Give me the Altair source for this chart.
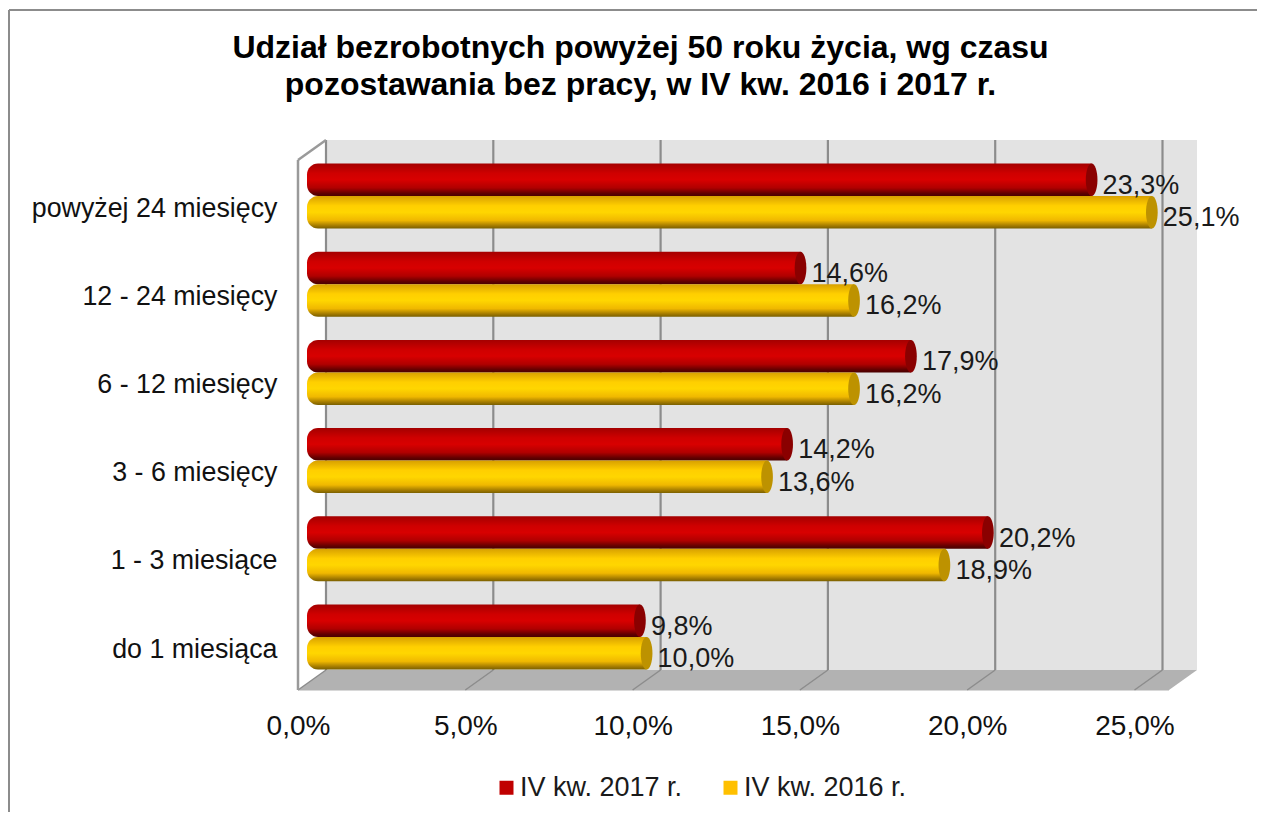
import altair as alt
import pandas as pd

categories = ["powyżej 24 miesięcy", "12 - 24 miesięcy", "6 - 12 miesięcy",
              "3 - 6 miesięcy", "1 - 3 miesiące", "do 1 miesiąca"]
values_2017 = [23.3, 14.6, 17.9, 14.2, 20.2, 9.8]
values_2016 = [25.1, 16.2, 16.2, 13.6, 18.9, 10.0]
series_names = ["IV kw. 2017 r.", "IV kw. 2016 r."]
grid_values = [0, 5, 10, 15, 20, 25]

FONT = "Liberation Sans"
PX_X = 33.46          # pixels per percent
PX_Y = 88.2           # pixels per category row
W, H = 899, 550
DX = 28 / PX_X        # 3D depth in x units
DY = 20 / PX_Y        # 3D depth in y units
X_MAX = W / PX_X
Y_MAX = H / PX_Y
FLOOR_BACK = 530 / PX_Y
FLOOR_FRONT = 550 / PX_Y
BAND0 = 56 / PX_Y     # centre of first pair of bars
HALF = 32.5 / PX_Y
BAR_L = 9 / PX_X
BAR_R = 14 / PX_X

x_scale = alt.Scale(domain=[0, X_MAX], nice=False, zero=False)
y_scale = alt.Scale(domain=[0, Y_MAX], reverse=True, nice=False, zero=False)

label_js = "{" + ",".join(f"'{i}':'{c}'" for i, c in enumerate(categories)) + "}"
OFFSET = BAND0 + 12 / PX_Y
x_axis = alt.Axis(
    values=grid_values, domain=False, ticks=False, grid=False, labelPadding=22, title=None,
    labelFont=FONT, labelFontSize=28, labelColor="#111111", labelFlush=False, labelBound=False,
    labelOverlap=False, labelExpr="replace(format(datum.value,'.1f'),'.',',')+'%'")
y_axis = alt.Axis(
    values=[OFFSET + i for i in range(6)], domain=False, ticks=False, grid=False, title=None,
    labelPadding=21, labelFont=FONT, labelFontSize=26.8, labelColor="#111111", labelLimit=400,
    labelOverlap=False, labelExpr=f"{label_js}[round(datum.value-{OFFSET})]")

rows = []
for i, c in enumerate(categories):
    for s, v in zip(series_names, (values_2017[i], values_2016[i])):
        top = BAND0 + i - (HALF if s == series_names[0] else 0)
        rows.append(dict(category=c, series=s, value=v, x0=BAR_L, x1=v + BAR_R,
                         y0=top, y1=top + HALF, ym=top + HALF / 2,
                         label=f"{v:.1f}%".replace(".", ",")))
df = pd.DataFrame(rows)
red = df[df.series == series_names[0]]
yel = df[df.series == series_names[1]]

X = alt.X("x:Q", scale=x_scale, axis=x_axis)
Y = alt.Y("y:Q", scale=y_scale, axis=y_axis)

wall = alt.Chart(pd.DataFrame([dict(x=DX, x2=X_MAX, y=0, y2=FLOOR_BACK)])).mark_rect(color="#e3e3e3").encode(
    x=X, x2="x2:Q", y=Y, y2="y2:Q")

floor_pts = pd.DataFrame([
    dict(x=0, y=FLOOR_FRONT, y2=FLOOR_FRONT),
    dict(x=DX, y=FLOOR_BACK, y2=FLOOR_FRONT),
    dict(x=X_MAX - DX, y=FLOOR_BACK, y2=FLOOR_FRONT),
    dict(x=X_MAX, y=FLOOR_BACK, y2=FLOOR_BACK),
])
floor = alt.Chart(floor_pts).mark_area(color="#b2b2b2", interpolate="linear").encode(
    x=X, y=Y, y2="y2:Q")

grid_df = pd.DataFrame([dict(x=g + DX, x2=g + DX, y=0, y2=FLOOR_BACK) for g in grid_values])
grid_back = alt.Chart(grid_df).mark_rule(color="#8c8c8c", strokeWidth=2.2).encode(
    x=X, x2="x2:Q", y=Y, y2="y2:Q")
slant_df = pd.DataFrame([dict(x=g, x2=g + DX, y=FLOOR_FRONT, y2=FLOOR_BACK) for g in grid_values])
grid_slant = alt.Chart(slant_df).mark_rule(color="#8c8c8c", strokeWidth=1.5).encode(
    x=X, x2="x2:Q", y=Y, y2="y2:Q")

side_df = pd.DataFrame([
    dict(x=0, x2=0, y=DY, y2=FLOOR_FRONT),
    dict(x=0, x2=DX, y=DY, y2=0),
])
side = alt.Chart(side_df).mark_rule(color="#9a9a9a", strokeWidth=2.5).encode(
    x=X, x2="x2:Q", y=Y, y2="y2:Q")
front = alt.Chart(pd.DataFrame([dict(x=0, x2=X_MAX - DX, y=FLOOR_FRONT, y2=FLOOR_FRONT)])).mark_rule(
    color="#b2b2b2", strokeWidth=1).encode(x=X, x2="x2:Q", y=Y, y2="y2:Q")


def grad(stops):
    return alt.Gradient(gradient="linear", x1=0, x2=0, y1=0, y2=1,
                        stops=[alt.GradientStop(offset=o, color=c) for o, c in stops])


red_grad = grad([(0, "#a40000"), (0.3, "#cf0000"), (0.5, "#d80000"), (0.75, "#b00000"), (0.92, "#600000"), (1, "#4a0000")])
yel_grad = grad([(0, "#d8a000"), (0.3, "#ffcf00"), (0.5, "#ffd600"), (0.75, "#f0b800"), (0.92, "#a07800"), (1, "#7a6000")])
CAP = "M0,-1 A0.36,1 0 1,1 0,1 A0.36,1 0 1,1 0,-1 Z"


def bars(d, g, cap):
    b = alt.Chart(d).mark_bar(color=g, cornerRadiusTopLeft=11, cornerRadiusBottomLeft=11).encode(
        x=alt.X("x0:Q", scale=x_scale, axis=x_axis), x2="x1:Q",
        y=alt.Y("y0:Q", scale=y_scale, axis=y_axis), y2="y1:Q")
    c = alt.Chart(d).mark_point(shape=CAP, filled=True, color=cap, opacity=1, size=1056).encode(
        x=alt.X("x1:Q", scale=x_scale, axis=x_axis),
        y=alt.Y("ym:Q", scale=y_scale, axis=y_axis))
    return b + c


labels = alt.Chart(df).mark_text(align="left", baseline="middle", dx=11, dy=6, font=FONT,
                                 fontSize=27, color="#1a1a1a").encode(
    x=alt.X("x1:Q", scale=x_scale, axis=x_axis),
    y=alt.Y("ym:Q", scale=y_scale, axis=y_axis),
    text="label:N")

legend_df = pd.DataFrame(dict(x=[0.0, 0.0], y=[0.0, 0.0], s=series_names))
legend = alt.Chart(legend_df).mark_square(opacity=0).encode(
    x=alt.X("x:Q", scale=x_scale, axis=x_axis),
    y=alt.Y("y:Q", scale=y_scale, axis=y_axis),
    color=alt.Color("s:N", title=None, sort=series_names,
                    scale=alt.Scale(domain=series_names, range=["#c00000", "#ffc000"]),
                    legend=alt.Legend(orient="none", legendX=195, legendY=634, direction="horizontal",
                                      symbolType="square", symbolSize=196, symbolOpacity=1,
                                      symbolStrokeWidth=0, labelFont=FONT, labelFontSize=27,
                                      labelLimit=400, labelColor="#1a1a1a", columnPadding=34,
                                      labelOffset=0, padding=0)),
)

frame = alt.Chart(pd.DataFrame(dict(a=[0]))).mark_rule(color="#8c8c8c", strokeWidth=2).encode(
    x=alt.value(-289), x2=alt.value(960), y=alt.value(-130), y2=alt.value(-130))
frame_l = alt.Chart(pd.DataFrame(dict(a=[0]))).mark_rule(color="#8c8c8c", strokeWidth=2).encode(
    x=alt.value(-289), x2=alt.value(-289), y=alt.value(-130), y2=alt.value(672))

chart = alt.layer(
    frame, frame_l, wall, floor, front, grid_back, grid_slant, side,
    bars(red, red_grad, "#8a0000"), bars(yel, yel_grad, "#bd9200"),
    labels, legend,
).properties(
    width=W, height=H,
    title=alt.TitleParams(
        text=["Udział bezrobotnych powyżej 50 roku życia, wg czasu",
              "pozostawania bez pracy, w IV kw. 2016 i 2017 r."],
        font=FONT, fontSize=32, fontWeight="bold", color="#000000",
        anchor="middle", dx=-107, offset=-93, lineHeight=37),
    padding={"left": 290, "top": 132, "right": 60, "bottom": 122},
    autosize=alt.AutoSizeParams(type="none"),
).configure_view(stroke=None)

chart.save("out.html", embed_options={"renderer": "svg", "actions": False})
